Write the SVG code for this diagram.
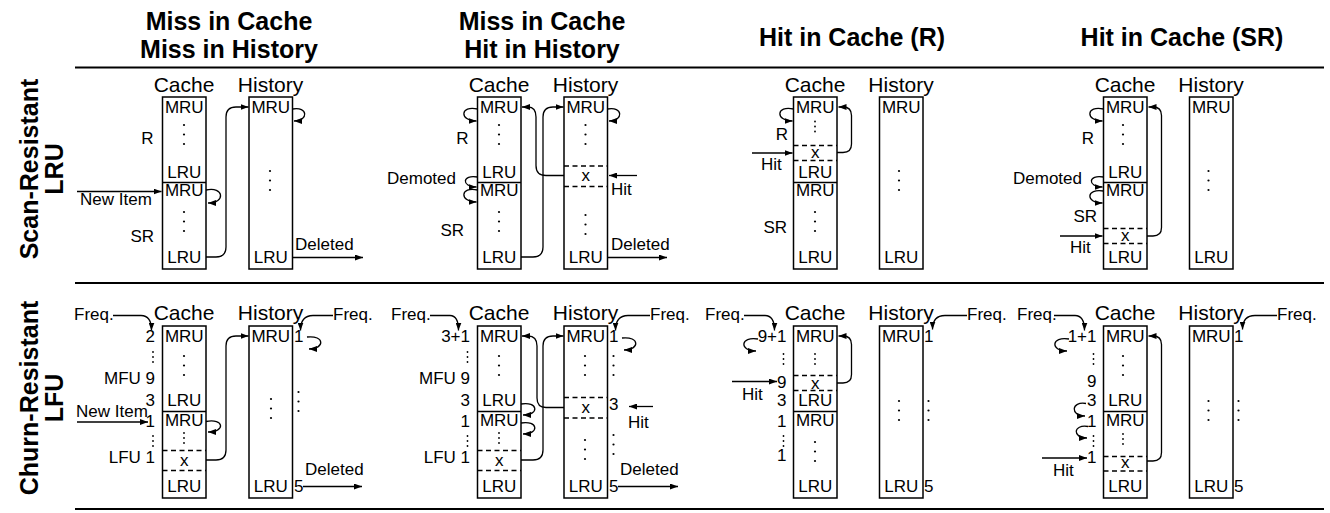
<svg xmlns="http://www.w3.org/2000/svg" xmlns:xlink="http://www.w3.org/1999/xlink" width="1330" height="513" viewBox="0 0 1330 513">
<style>
text { font-family: "Liberation Sans", Arial, Helvetica, sans-serif; fill: #000; }
.title { font-size: 25px; font-weight: bold; text-anchor: middle; }
.rowl { font-size: 25px; font-weight: bold; text-anchor: middle; }
.hd { font-size: 21px; text-anchor: middle; }
.bl { font-size: 17px; text-anchor: middle; }
.lb { font-size: 17px; }
.e { text-anchor: end; }
.box { fill: #fff; stroke: #000; stroke-width: 1.5; }
.div { stroke: #000; stroke-width: 1.5; }
.dash { stroke: #000; stroke-width: 1.3; stroke-dasharray: 5 3.5; }
.c { fill: none; stroke: #000; stroke-width: 1.3; marker-end: url(#ah); }
.rule { stroke: #000; stroke-width: 2; }
.dot { fill: #000; }
</style>
<defs>
<marker id="ah" viewBox="0 0 8 6" refX="8" refY="3" markerWidth="8" markerHeight="6" markerUnits="userSpaceOnUse" orient="auto"><path d="M0,0 L8,3 L0,6 z" fill="#000"/></marker>
<g id="d3"><circle class="dot" cx="0" cy="0" r="1.1"/><circle class="dot" cx="0" cy="9.5" r="1.1"/><circle class="dot" cx="0" cy="19" r="1.1"/></g>
<g id="d3s"><circle class="dot" cx="0" cy="0" r="0.9"/><circle class="dot" cx="0" cy="5" r="0.9"/><circle class="dot" cx="0" cy="10" r="0.9"/></g>
</defs>
<rect width="1330" height="513" fill="#fff"/>

<g id="frame">
<line class="rule" x1="75" y1="67.5" x2="1324" y2="67.5"/>
<line class="rule" x1="75" y1="283" x2="1324" y2="283"/>
<line class="rule" x1="75" y1="509" x2="1324" y2="509"/>
</g>

<g id="titles">
<text class="title" x="229" y="30">Miss in Cache</text>
<text class="title" x="229" y="58">Miss in History</text>
<text class="title" x="542" y="30">Miss in Cache</text>
<text class="title" x="542" y="58">Hit in History</text>
<text class="title" x="852" y="46">Hit in Cache (R)</text>
<text class="title" x="1182" y="46">Hit in Cache (SR)</text>
<text class="rowl" transform="translate(38,169) rotate(-90)">Scan-Resistant</text>
<text class="rowl" transform="translate(63,169) rotate(-90)">LRU</text>
<text class="rowl" transform="translate(38,398) rotate(-90)">Churn-Resistant</text>
<text class="rowl" transform="translate(63,398) rotate(-90)">LFU</text>
</g>

<!-- ============ Row 1, Col 1 ============ -->
<g id="lru-miss-miss">
<g id="p11-cache">
<text class="hd" x="184" y="92">Cache</text>
<rect class="box" x="162.5" y="97" width="43.5" height="172"/>
<line class="div" x1="162.5" y1="182.5" x2="206" y2="182.5"/>
<text class="bl" x="184.25" y="113">MRU</text>
<use href="#d3" x="184" y="125"/>
<text class="bl" x="184.25" y="178">LRU</text>
<text class="bl" x="184.25" y="196">MRU</text>
<use href="#d3" x="184" y="212"/>
<text class="bl" x="184.25" y="263">LRU</text>
</g>
<g id="p11-history">
<text class="hd" x="270.5" y="92">History</text>
<rect class="box" x="249" y="97" width="43.5" height="172"/>
<text class="bl" x="270.75" y="113">MRU</text>
<use href="#d3" x="270" y="171"/>
<text class="bl" x="270.75" y="263">LRU</text>
</g>
<g id="p11-labels">
<text class="lb e" x="153.5" y="144">R</text>
<text class="lb e" x="154" y="241.5">SR</text>
<text class="lb" x="80" y="205">New Item</text>
<text class="lb" x="295" y="250">Deleted</text>
</g>
<g id="p11-connectors">
<path class="c" d="M77,191.5 H161.5"/>
<path class="c" d="M206,190 C224,186 226,203 208,203"/>
<path class="c" d="M206,257 H216 Q226,257 226,247 V117 Q226,107 236,107 H248.5"/>
<path class="c" d="M292.5,109 C308,106 309,121 294,121"/>
<path class="c" d="M292.5,257.5 H363"/>
</g>
</g>

<!-- ============ Row 1, Col 2 ============ -->
<g id="lru-miss-hit">
<g id="p12-cache">
<text class="hd" x="499" y="92">Cache</text>
<rect class="box" x="477.5" y="97" width="43.5" height="172"/>
<line class="div" x1="477.5" y1="182.5" x2="521" y2="182.5"/>
<text class="bl" x="499.25" y="113">MRU</text>
<use href="#d3" x="499" y="125"/>
<text class="bl" x="499.25" y="178">LRU</text>
<text class="bl" x="499.25" y="196">MRU</text>
<use href="#d3" x="499" y="212"/>
<text class="bl" x="499.25" y="263">LRU</text>
</g>
<g id="p12-history">
<text class="hd" x="585.5" y="92">History</text>
<rect class="box" x="564" y="97" width="43.5" height="172"/>
<text class="bl" x="585.75" y="113">MRU</text>
<use href="#d3" x="585.5" y="125"/>
<line class="dash" x1="564" y1="166" x2="607.5" y2="166"/>
<text class="bl" x="585.75" y="181">x</text>
<line class="dash" x1="564" y1="186.5" x2="607.5" y2="186.5"/>
<use href="#d3" x="585.5" y="215"/>
<text class="bl" x="585.75" y="263">LRU</text>
</g>
<g id="p12-labels">
<text class="lb e" x="468.5" y="144">R</text>
<text class="lb e" x="456" y="184">Demoted</text>
<text class="lb e" x="464" y="236">SR</text>
<text class="lb" x="611" y="195">Hit</text>
<text class="lb" x="611" y="250">Deleted</text>
</g>
<g id="p12-connectors">
<path class="c" d="M477.5,109 C460,105 459,121 476.5,121"/>
<path class="c" d="M477.5,177 C462,174 461,187 476.5,187"/>
<path class="c" d="M477.5,190 C460,186 459,202 476.5,202"/>
<path class="c" d="M564,175.5 H546 Q536,175.5 536,165.5 V117 Q536,107 528,107 H522"/>
<path class="c" d="M521,257 H533 Q543,257 543,247 V117 Q543,107 553,107 H563.5"/>
<path class="c" d="M637,175.5 H609"/>
<path class="c" d="M607.5,109 C623,106 624,121 609,121"/>
<path class="c" d="M607.5,257.5 H667"/>
</g>
</g>

<!-- ============ Row 1, Col 3 ============ -->
<g id="lru-hit-r">
<g id="p13-cache">
<text class="hd" x="815" y="92">Cache</text>
<rect class="box" x="793.5" y="97" width="43.5" height="172"/>
<line class="div" x1="793.5" y1="182.5" x2="837" y2="182.5"/>
<text class="bl" x="815.25" y="113">MRU</text>
<use href="#d3s" x="815" y="121.5"/>
<line class="dash" x1="793.5" y1="145.5" x2="837" y2="145.5"/>
<text class="bl" x="815.25" y="158">x</text>
<line class="dash" x1="793.5" y1="160.5" x2="837" y2="160.5"/>
<text class="bl" x="815.25" y="178">LRU</text>
<text class="bl" x="815.25" y="196">MRU</text>
<use href="#d3" x="815" y="212"/>
<text class="bl" x="815.25" y="263">LRU</text>
</g>
<g id="p13-history">
<text class="hd" x="901" y="92">History</text>
<rect class="box" x="879.5" y="97" width="43.5" height="172"/>
<text class="bl" x="901.25" y="113">MRU</text>
<use href="#d3" x="899" y="171"/>
<text class="bl" x="901.25" y="263">LRU</text>
</g>
<g id="p13-labels">
<text class="lb e" x="788" y="140">R</text>
<text class="lb e" x="787" y="233">SR</text>
<text class="lb" x="761" y="170">Hit</text>
</g>
<g id="p13-connectors">
<path class="c" d="M793.5,109 C776,105 775,121 792.5,121"/>
<path class="c" d="M752,153 H792.5"/>
<path class="c" d="M837,152.5 H843 Q851.5,152.5 851.5,144 V115.5 Q851.5,107 843,107 H838.5"/>
</g>
</g>

<!-- ============ Row 1, Col 4 ============ -->
<g id="lru-hit-sr">
<g id="p14-cache">
<text class="hd" x="1125" y="92">Cache</text>
<rect class="box" x="1103.5" y="97" width="43.5" height="172"/>
<line class="div" x1="1103.5" y1="182.5" x2="1147" y2="182.5"/>
<text class="bl" x="1125.25" y="113">MRU</text>
<use href="#d3" x="1123" y="125"/>
<text class="bl" x="1125.25" y="178">LRU</text>
<text class="bl" x="1125.25" y="196">MRU</text>
<line class="dash" x1="1103.5" y1="228.5" x2="1147" y2="228.5"/>
<text class="bl" x="1125.25" y="241">x</text>
<line class="dash" x1="1103.5" y1="243.5" x2="1147" y2="243.5"/>
<text class="bl" x="1125.25" y="263">LRU</text>
</g>
<g id="p14-history">
<text class="hd" x="1211" y="92">History</text>
<rect class="box" x="1189.5" y="97" width="43.5" height="172"/>
<text class="bl" x="1211.25" y="113">MRU</text>
<use href="#d3" x="1208.5" y="171"/>
<text class="bl" x="1211.25" y="263">LRU</text>
</g>
<g id="p14-labels">
<text class="lb e" x="1094" y="144">R</text>
<text class="lb e" x="1082" y="184">Demoted</text>
<text class="lb e" x="1097" y="222">SR</text>
<text class="lb" x="1070" y="253">Hit</text>
</g>
<g id="p14-connectors">
<path class="c" d="M1103.5,109 C1086,105 1085,121 1102.5,121"/>
<path class="c" d="M1103.5,177 C1088,174 1087,187 1102.5,187"/>
<path class="c" d="M1103.5,191 C1086,188 1085,203 1102.5,203"/>
<path class="c" d="M1060,236 H1102.5"/>
<path class="c" d="M1147,236 H1153 Q1161.5,236 1161.5,227.5 V115.5 Q1161.5,107 1153,107 H1148.5"/>
</g>
</g>

<!-- ============ Row 2, Col 1 ============ -->
<g id="lfu-miss-miss">
<g id="p21-cache">
<text class="hd" x="184" y="320">Cache</text>
<rect class="box" x="162.5" y="326" width="43.5" height="172"/>
<line class="div" x1="162.5" y1="411.5" x2="206" y2="411.5"/>
<text class="bl" x="184.25" y="342">MRU</text>
<use href="#d3" x="184" y="356"/>
<text class="bl" x="184.25" y="406">LRU</text>
<text class="bl" x="184.25" y="426">MRU</text>
<use href="#d3s" x="184" y="433"/>
<line class="dash" x1="162.5" y1="450.5" x2="206" y2="450.5"/>
<text class="bl" x="184.25" y="466">x</text>
<line class="dash" x1="162.5" y1="470.5" x2="206" y2="470.5"/>
<text class="bl" x="184.25" y="492">LRU</text>
</g>
<g id="p21-history">
<text class="hd" x="270.5" y="320">History</text>
<rect class="box" x="249" y="326" width="43.5" height="172"/>
<text class="bl" x="270.75" y="342">MRU</text>
<use href="#d3" x="271" y="399"/>
<text class="bl" x="270.75" y="492">LRU</text>
</g>
<g id="p21-labels">
<text class="lb" x="74" y="320">Freq.</text>
<text class="lb e" x="155" y="342">2</text>
<use href="#d3s" x="153" y="352"/>
<text class="lb e" x="155" y="384">MFU 9</text>
<text class="lb e" x="155" y="406">3</text>
<text class="lb" x="76" y="416.5">New Item</text>
<text class="lb e" x="155" y="427">1</text>
<use href="#d3s" x="153" y="436"/>
<text class="lb e" x="155" y="463">LFU 1</text>
<text class="lb" x="294" y="342">1</text>
<use href="#d3" x="298.5" y="392"/>
<text class="lb" x="294" y="492">5</text>
<text class="lb" x="333" y="320">Freq.</text>
<text class="lb" x="305" y="475">Deleted</text>
</g>
<g id="p21-connectors">
<path class="c" d="M113,315.5 H141 C148,315.5 151.5,320 151.5,330.5"/>
<path class="c" d="M333,315.5 H313 C305,315.5 300.5,320 300.5,330.5"/>
<path class="c" d="M77,422 H148"/>
<path class="c" d="M206,421.5 C224,418 226,432 208,432"/>
<path class="c" d="M206,460 H216 Q226,460 226,450 V346 Q226,336 236,336 H248.5"/>
<path class="c" d="M307,337 C325,335 325,349 309,349"/>
<path class="c" d="M303,486.5 H362"/>
</g>
</g>

<!-- ============ Row 2, Col 2 ============ -->
<g id="lfu-miss-hit">
<g id="p22-cache">
<text class="hd" x="499" y="320">Cache</text>
<rect class="box" x="477.5" y="326" width="43.5" height="172"/>
<line class="div" x1="477.5" y1="411.5" x2="521" y2="411.5"/>
<text class="bl" x="499.25" y="342">MRU</text>
<use href="#d3" x="499" y="356"/>
<text class="bl" x="499.25" y="406">LRU</text>
<text class="bl" x="499.25" y="426">MRU</text>
<use href="#d3s" x="499" y="433"/>
<line class="dash" x1="477.5" y1="450.5" x2="521" y2="450.5"/>
<text class="bl" x="499.25" y="466">x</text>
<line class="dash" x1="477.5" y1="470.5" x2="521" y2="470.5"/>
<text class="bl" x="499.25" y="492">LRU</text>
</g>
<g id="p22-history">
<text class="hd" x="585.5" y="320">History</text>
<rect class="box" x="564" y="326" width="43.5" height="172"/>
<text class="bl" x="585.75" y="342">MRU</text>
<use href="#d3" x="585" y="356"/>
<line class="dash" x1="564" y1="397.5" x2="607.5" y2="397.5"/>
<text class="bl" x="585.75" y="413">x</text>
<line class="dash" x1="564" y1="418" x2="607.5" y2="418"/>
<use href="#d3" x="585" y="440"/>
<text class="bl" x="585.75" y="492">LRU</text>
</g>
<g id="p22-labels">
<text class="lb" x="391" y="320">Freq.</text>
<text class="lb e" x="470" y="342">3+1</text>
<use href="#d3s" x="467.5" y="352"/>
<text class="lb e" x="470" y="384">MFU 9</text>
<text class="lb e" x="470" y="406">3</text>
<text class="lb e" x="470" y="427">1</text>
<use href="#d3s" x="467.5" y="436"/>
<text class="lb e" x="470" y="463">LFU 1</text>
<text class="lb" x="609" y="342">1</text>
<use href="#d3" x="613.5" y="356"/>
<text class="lb" x="609" y="410">3</text>
<use href="#d3" x="613.5" y="435"/>
<text class="lb" x="609" y="492">5</text>
<text class="lb" x="650" y="320">Freq.</text>
<text class="lb" x="628" y="428">Hit</text>
<text class="lb" x="620" y="475">Deleted</text>
</g>
<g id="p22-connectors">
<path class="c" d="M430,315.5 H450 C456,315.5 458.5,320 458.5,330.5"/>
<path class="c" d="M650,315.5 H628 C620,315.5 615.5,320 615.5,330.5"/>
<path class="c" d="M521,404 C538,401 540,415 523,415"/>
<path class="c" d="M521,423 C538,420 540,434 523,434"/>
<path class="c" d="M564,407.5 H546 Q537,407.5 537,398 V346 Q537,336 528,336 H522"/>
<path class="c" d="M521,460 H533 Q543,460 543,450 V346 Q543,336 553,336 H563.5"/>
<path class="c" d="M653,406.5 H629"/>
<path class="c" d="M622,338 C640,336 640,350 624,350"/>
<path class="c" d="M618,486.5 H678"/>
</g>
</g>

<!-- ============ Row 2, Col 3 ============ -->
<g id="lfu-hit-r">
<g id="p23-cache">
<text class="hd" x="815" y="320">Cache</text>
<rect class="box" x="793.5" y="326" width="43.5" height="172"/>
<line class="div" x1="793.5" y1="411.5" x2="837" y2="411.5"/>
<text class="bl" x="815.25" y="342">MRU</text>
<use href="#d3s" x="815" y="354"/>
<line class="dash" x1="793.5" y1="375.5" x2="837" y2="375.5"/>
<text class="bl" x="815.25" y="389">x</text>
<line class="dash" x1="793.5" y1="390.5" x2="837" y2="390.5"/>
<text class="bl" x="815.25" y="406">LRU</text>
<text class="bl" x="815.25" y="426">MRU</text>
<use href="#d3" x="815" y="442"/>
<text class="bl" x="815.25" y="492">LRU</text>
</g>
<g id="p23-history">
<text class="hd" x="901" y="320">History</text>
<rect class="box" x="879.5" y="326" width="43.5" height="172"/>
<text class="bl" x="901.25" y="342">MRU</text>
<use href="#d3" x="899" y="401"/>
<text class="bl" x="901.25" y="492">LRU</text>
</g>
<g id="p23-labels">
<text class="lb" x="705" y="320">Freq.</text>
<text class="lb e" x="786.5" y="342">9+1</text>
<use href="#d3s" x="783.5" y="354"/>
<text class="lb e" x="786.5" y="387.5">9</text>
<text class="lb" x="742" y="400">Hit</text>
<text class="lb e" x="786.5" y="406">3</text>
<text class="lb e" x="786.5" y="427">1</text>
<use href="#d3s" x="783.5" y="436"/>
<text class="lb e" x="786.5" y="461">1</text>
<text class="lb" x="924" y="342">1</text>
<use href="#d3" x="928.5" y="401"/>
<text class="lb" x="924" y="492">5</text>
<text class="lb" x="967" y="320">Freq.</text>
</g>
<g id="p23-connectors">
<path class="c" d="M744,315.5 H765 C771,315.5 774.5,320 774.5,330.5"/>
<path class="c" d="M967,315.5 H945 C937,315.5 932.5,320 932.5,329.5"/>
<path class="c" d="M758,339 C740,336 739,351 756,351"/>
<path class="c" d="M732,381.5 H777"/>
<path class="c" d="M837,383 H843 Q851.5,383 851.5,374.5 V344.5 Q851.5,336 843,336 H838.5"/>
</g>
</g>

<!-- ============ Row 2, Col 4 ============ -->
<g id="lfu-hit-sr">
<g id="p24-cache">
<text class="hd" x="1125" y="320">Cache</text>
<rect class="box" x="1103.5" y="326" width="43.5" height="172"/>
<line class="div" x1="1103.5" y1="411.5" x2="1147" y2="411.5"/>
<text class="bl" x="1125.25" y="342">MRU</text>
<use href="#d3" x="1123" y="356"/>
<text class="bl" x="1125.25" y="406">LRU</text>
<text class="bl" x="1125.25" y="426">MRU</text>
<use href="#d3s" x="1123" y="434"/>
<line class="dash" x1="1103.5" y1="456.5" x2="1147" y2="456.5"/>
<text class="bl" x="1125.25" y="468">x</text>
<line class="dash" x1="1103.5" y1="471" x2="1147" y2="471"/>
<text class="bl" x="1125.25" y="492">LRU</text>
</g>
<g id="p24-history">
<text class="hd" x="1211" y="320">History</text>
<rect class="box" x="1189.5" y="326" width="43.5" height="172"/>
<text class="bl" x="1211.25" y="342">MRU</text>
<use href="#d3" x="1208.5" y="401"/>
<text class="bl" x="1211.25" y="492">LRU</text>
</g>
<g id="p24-labels">
<text class="lb" x="1017" y="320">Freq.</text>
<text class="lb e" x="1096.5" y="342">1+1</text>
<use href="#d3s" x="1093.5" y="354"/>
<text class="lb e" x="1096.5" y="387">9</text>
<text class="lb e" x="1096.5" y="406">3</text>
<text class="lb e" x="1096.5" y="427">1</text>
<use href="#d3s" x="1093.5" y="436"/>
<text class="lb e" x="1096.5" y="463">1</text>
<text class="lb" x="1053" y="476">Hit</text>
<text class="lb" x="1234" y="342">1</text>
<use href="#d3" x="1238.5" y="401"/>
<text class="lb" x="1234" y="492">5</text>
<text class="lb" x="1277" y="320">Freq.</text>
</g>
<g id="p24-connectors">
<path class="c" d="M1054,315.5 H1075 C1081,315.5 1084.5,320 1084.5,330.5"/>
<path class="c" d="M1277,315.5 H1255 C1247,315.5 1242.5,320 1242.5,329.5"/>
<path class="c" d="M1069,339 C1051,336 1050,351 1067,351"/>
<path class="c" d="M1086,403.5 C1071,401 1070,416 1085,416"/>
<path class="c" d="M1088,426.5 C1073,424 1072,438 1087,438"/>
<path class="c" d="M1042,458 H1087"/>
<path class="c" d="M1147,461 H1153 Q1161.5,461 1161.5,452.5 V344.5 Q1161.5,336 1153,336 H1148.5"/>
</g>
</g>
</svg>
